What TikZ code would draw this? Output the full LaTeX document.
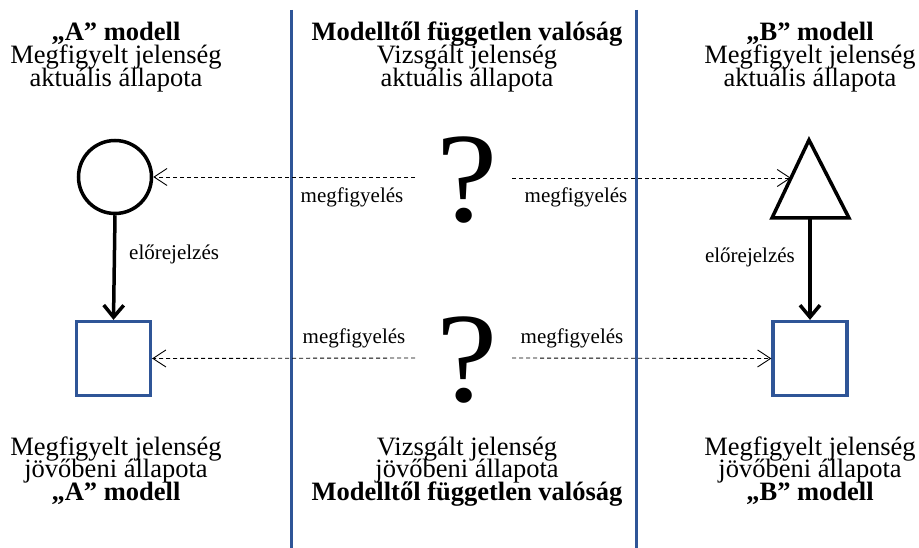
\documentclass[tikz,border=0pt]{standalone}
\usepackage{fontspec}
\setmainfont{Liberation Serif}
\usetikzlibrary{arrows.meta}
\definecolor{mblue}{RGB}{47,85,151}
\tikzset{
  big/.style={font=\fontsize{26.5}{23}\selectfont, inner sep=0pt, anchor=base},
  bigb/.style={big, font=\fontsize{26.5}{23}\selectfont\bfseries},
  small/.style={font=\fontsize{21}{23}\selectfont, inner sep=0pt},
  qmark/.style={font=\fontsize{128}{128}\selectfont, inner sep=0pt, xscale=1.08},
  divider/.style={draw=mblue, line width=3pt},
  bluebox/.style={draw=mblue, line width=3.2pt, minimum width=74pt, minimum height=74pt, inner sep=0pt},
  predict/.style={line width=3.5pt, -{Straight Barb[length=12pt,width=20pt,line width=3.5pt]}},
  observe/.style={line width=0.9pt, dash pattern=on 4pt off 3pt, -{Straight Barb[length=13pt,width=17pt,line width=0.9pt]}}
}
\begin{document}
\begin{tikzpicture}[x=1pt,y=-1pt]
\useasboundingbox (0,0) rectangle (919,548);
% dividers
\coordinate (d1t) at (291,10); \coordinate (d1b) at (291,548);
\coordinate (d2t) at (636,10); \coordinate (d2b) at (636,548);
\draw[divider] (d1t) -- (d1b);
\draw[divider] (d2t) -- (d2b);
% headers
\node[bigb] (hA1) at (116,41) {„A” modell};
\node[big] (hA2) at (116,64) {Megfigyelt jelenség};
\node[big] (hA3) at (116,87) {aktuális állapota};
\node[bigb] (hM1) at (467,41) {Modelltől független valóság};
\node[big] (hM2) at (467,64) {Vizsgált jelenség};
\node[big] (hM3) at (467,87) {aktuális állapota};
\node[bigb] (hB1) at (810,41) {„B” modell};
\node[big] (hB2) at (810,64) {Megfigyelt jelenség};
\node[big] (hB3) at (810,87) {aktuális állapota};
% footers
\node[big] (fA1) at (116,455) {Megfigyelt jelenség};
\node[big] (fA2) at (116,477) {jövőbeni állapota};
\node[bigb] (fA3) at (116,500) {„A” modell};
\node[big] (fM1) at (467,455) {Vizsgált jelenség};
\node[big] (fM2) at (467,477) {jövőbeni állapota};
\node[bigb] (fM3) at (467,500) {Modelltől független valóság};
\node[big] (fB1) at (810,455) {Megfigyelt jelenség};
\node[big] (fB2) at (810,477) {jövőbeni állapota};
\node[bigb] (fB3) at (810,500) {„B” modell};
% shapes
\node[circle, draw, line width=3.5pt, minimum size=73pt, inner sep=0pt] (circ) at (115,177) {};
\node[bluebox] (sqA) at (113.5,358.5) {};
\node[bluebox] (sqB) at (810,358.5) {};
\coordinate (triT) at (809,140);
\coordinate (triL) at (772,218);
\coordinate (triR) at (849,218);
\coordinate (triB) at (810,218);
\coordinate (triE) at (791,178);
\draw[line width=3.5pt, line join=miter] (triT) -- (triL) -- (triR) -- cycle;
% question marks
\node[qmark] (q1) at (467,180) {?};
\node[qmark] (q2) at (467,360) {?};
% observation start points
\coordinate (o1l) at (415,177);
\coordinate (o1r) at (512,178);
\coordinate (o2l) at (415,358);
\coordinate (o2r) at (512,358);
\draw[observe] (o1l) -- (circ.east);
\draw[observe] (o1r) -- (triE);
\draw[observe] (o2l) -- (sqA.east);
\draw[observe] (o2r) -- (sqB.west);
% prediction arrows
\draw[predict] (circ.south) -- (sqA.north);
\draw[predict] (triB) -- (sqB.north);
% labels
\node[small] (lo1) at (352,197) {megfigyelés};
\node[small] (lo2) at (576,197) {megfigyelés};
\node[small] (lo3) at (354,338) {megfigyelés};
\node[small] (lo4) at (572,338) {megfigyelés};
\node[small, anchor=west] (lp1) at (129,254) {előrejelzés};
\node[small, anchor=east] (lp2) at (795,257) {előrejelzés};
\end{tikzpicture}
\end{document}
